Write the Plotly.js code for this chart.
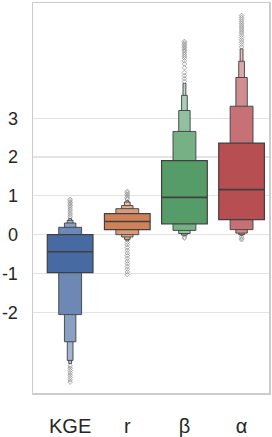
<!DOCTYPE html>
<html>
<head>
<meta charset="utf-8">
<script src="https://cdn.plot.ly/plotly-3.0.1.min.js"></script>
<style>html,body{margin:0;padding:0;background:#fff}#chart{width:272px;height:437px}</style>
</head>
<body>
<div id="chart"></div>
<script>
// categories and positions
const categories = ["KGE", "r", "β", "α"];
const positions = [0, 1, 2, 3];

// letter-value boxes (lower / upper bound) per level, one value per category
const level1Low  = [-0.98, 0.13, 0.28, 0.39];
const level1High = [ 0.00, 0.54, 1.91, 2.36];
const level2Low  = [-2.06, 0.00, 0.11, 0.13];
const level2High = [ 0.19, 0.67, 2.66, 3.31];
const level3Low  = [-2.76, -0.06, 0.03, 0.04];
const level3High = [ 0.30, 0.75, 3.20, 4.05];
const level4Low  = [-3.24, -0.12, -0.01, 0.00];
const level4High = [ 0.37, 0.84, 3.59, 4.47];
const level5Low  = [-3.32, -0.16, -0.03, -0.02];
const level5High = [ 0.42, 0.88, 3.90, 4.79];
const medians    = [-0.44, 0.34, 0.96, 1.16];

// outliers per category
const kgeOutliers   = [0.46, 0.51, 0.56, 0.61, 0.66, 0.71, 0.75, 0.79, 0.83, 0.87, 0.91, -3.38, -3.44, -3.5, -3.56, -3.62, -3.68, -3.74, -3.8];
const rOutliers     = [0.92, 0.96, 1.0, 1.04, 1.08, 1.12, -0.2, -0.26, -0.33, -0.4, -0.47, -0.54, -0.61, -0.68, -0.75, -0.82, -0.89, -0.96, -1.03];
const betaOutliers  = [3.95, 4.02, 4.1, 4.18, 4.3, 4.4, 4.48, 4.55, 4.6, 4.65, 4.7, 4.74, 4.78, 4.82, 4.86, 4.9, 4.94, 4.98, -0.06, -0.09];
const alphaOutliers = [4.84, 4.9, 4.96, 5.02, 5.08, 5.14, 5.2, 5.25, 5.3, 5.35, 5.4, 5.45, 5.5, 5.55, 5.6, 5.65, -0.06, -0.1, -0.13];

const yTicks = [-2, -1, 0, 1, 2, 3];
const yTickLabels = ["-2", "-1", "0", "1", "2", "3"];

// styling
const baseColors = [[72, 106, 162], [207, 130, 88], [86, 156, 104], [182, 78, 82]];
const lighten = [0, 0.2, 0.36, 0.5, 0.62];
function mix(c, t) {
  return 'rgb(' + c.map(v => Math.round(v + (255 - v) * t)).join(',') + ')';
}
const boxWidth = 0.8;
const edge = '#404040';

const levels = [
  [level1Low, level1High], [level2Low, level2High], [level3Low, level3High],
  [level4Low, level4High], [level5Low, level5High]
];

const traces = [];
// draw narrowest (outermost) levels first so wider levels cover them
for (let k = levels.length - 1; k >= 0; k--) {
  const [lo, hi] = levels[k];
  traces.push({
    type: 'bar',
    x: positions,
    base: lo,
    y: hi.map((h, i) => h - lo[i]),
    width: positions.map(() => boxWidth * Math.pow(0.5, k)),
    marker: {
      color: baseColors.map(c => mix(c, lighten[k])),
      line: {color: edge, width: k === 0 ? 1.2 : 0.9}
    },
    hoverinfo: 'skip',
    showlegend: false
  });
}

// median lines
positions.forEach((p, i) => {
  traces.push({
    type: 'scatter', mode: 'lines',
    x: [p - boxWidth / 2, p + boxWidth / 2],
    y: [medians[i], medians[i]],
    line: {color: edge, width: 1.6},
    hoverinfo: 'skip', showlegend: false
  });
});

// outliers
[kgeOutliers, rOutliers, betaOutliers, alphaOutliers].forEach((arr, i) => {
  traces.push({
    type: 'scatter', mode: 'markers',
    x: arr.map(() => positions[i]),
    y: arr,
    marker: {symbol: 'diamond-open', size: 3.5, color: '#8a8a8a', line: {width: 0.7}},
    hoverinfo: 'skip', showlegend: false
  });
});

const layout = {
  width: 272, height: 437,
  margin: {l: 33, r: 3, t: 3, b: 44},
  paper_bgcolor: '#ffffff', plot_bgcolor: '#ffffff',
  barmode: 'overlay',
  font: {family: 'Liberation Sans, Arial, sans-serif', color: '#262626'},
  xaxis: {
    range: [-0.65, 3.48],
    tickvals: positions, ticktext: categories,
    showgrid: false, zeroline: false,
    showline: true, mirror: true, linecolor: '#cccccc', linewidth: 1.5,
    ticks: '', ticklabelstandoff: 14,
    tickfont: {size: 20}
  },
  yaxis: {
    range: [-4.08, 5.97],
    tickvals: yTicks, ticktext: yTickLabels,
    showgrid: true, gridcolor: '#e3e3e3', gridwidth: 1.2,
    zeroline: false,
    showline: true, mirror: true, linecolor: '#cccccc', linewidth: 1.5,
    ticks: '', ticklabelstandoff: 10,
    tickfont: {size: 18}
  }
};

Plotly.newPlot('chart', traces, layout, {staticPlot: true, displayModeBar: false});
</script>
</body>
</html>
